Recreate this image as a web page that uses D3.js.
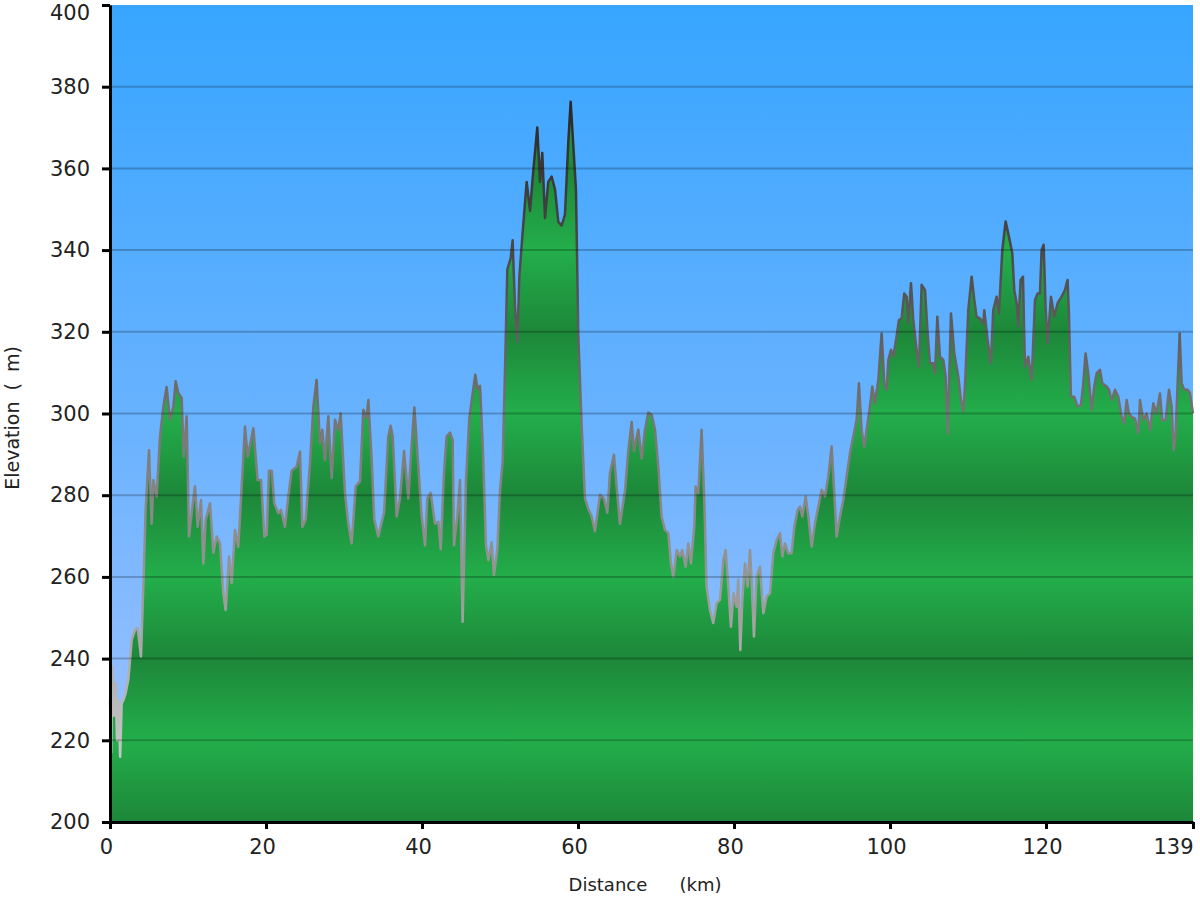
<!DOCTYPE html>
<html>
<head>
<meta charset="utf-8">
<script src="https://cdn.jsdelivr.net/npm/d3@7"></script>
<style>
  html, body { margin: 0; padding: 0; background: #ffffff; }
  svg { display: block; }
  text { font-family: "DejaVu Sans", Verdana, sans-serif; }
</style>
</head>
<body>
<svg id="chart" width="1200" height="900"></svg>
<script>
// ---- Data ----
const distKm = [
  0, 0.15, 0.3, 0.5, 0.7, 0.9, 1.1, 1.3, 1.5, 1.75, 2.0, 2.35, 2.78, 3.21, 3.55, 3.97, 4.27, 4.57, 5.0, 5.34,
  5.56, 5.98, 6.41, 6.84, 7.26, 7.69, 8.12, 8.42, 8.76, 9.19, 9.45, 9.83, 10.13, 10.56, 10.9, 11.24, 11.67, 11.97, 12.27, 12.82,
  13.25, 13.68, 14.1, 14.53, 14.83, 15.26, 15.6, 16.03, 16.45, 16.88, 17.31, 17.65, 18.38, 18.93, 19.36, 19.79, 20.09, 20.38, 20.73, 21.07,
  21.58, 21.92, 22.43, 22.86, 23.29, 23.93, 24.36, 24.66, 25.08, 25.64, 26.07, 26.49, 26.92, 27.22, 27.56, 27.99, 28.42, 28.85, 29.27, 29.57,
  30.13, 30.55, 30.98, 31.5, 32.05, 32.48, 32.9, 33.12, 33.55, 33.89, 34.4, 35.13, 35.68, 35.98, 36.24, 36.75, 37.18, 37.7, 38.25, 38.68,
  39.02, 39.53, 39.96, 40.39, 40.69, 41.11, 41.67, 42.1, 42.4, 42.82, 43.16, 43.59, 43.93, 44.1, 44.53, 44.87, 45.21, 45.64, 46.07, 46.5,
  46.84, 47.1, 47.44, 47.78, 48.21, 48.51, 48.93, 49.23, 49.66, 50.0, 50.34, 50.64, 50.94, 51.37, 51.62, 51.92, 52.22, 52.48, 52.9, 53.42,
  53.85, 54.27, 54.78, 55.13, 55.42, 55.77, 56.19, 56.62, 57.05, 57.48, 57.9, 58.33, 58.76, 59.06, 59.4, 59.74, 60.04, 60.47, 60.9, 61.33,
  61.75, 62.18, 62.82, 63.33, 63.76, 64.1, 64.61, 64.96, 65.38, 66.02, 66.45, 66.88, 67.18, 67.73, 68.16, 68.59, 69.01, 69.44, 69.87, 70.3,
  70.72, 71.15, 71.58, 71.92, 72.22, 72.65, 73.08, 73.37, 73.8, 74.14, 74.48, 74.91, 75.08, 75.42, 75.85, 76.19, 76.49, 76.92, 77.34, 77.77,
  78.2, 78.63, 78.93, 79.27, 79.61, 79.95, 80.34, 80.55, 80.81, 81.07, 81.41, 81.75, 82.05, 82.26, 82.56, 82.9, 83.33, 83.76, 84.19, 84.61,
  85.04, 85.47, 85.9, 86.2, 86.54, 86.97, 87.39, 87.74, 88.16, 88.46, 88.76, 89.19, 89.53, 89.96, 90.38, 90.81, 91.24, 91.67, 92.09, 92.52,
  92.86, 93.16, 93.59, 94.02, 94.44, 94.87, 95.3, 95.72, 96.02, 96.36, 96.7, 97.0, 97.43, 97.73, 98.07, 98.5, 98.93, 99.27, 99.57, 99.79,
  100.13, 100.43, 100.85, 101.15, 101.49, 101.83, 102.13, 102.35, 102.69, 102.99, 103.41, 103.71, 104.06, 104.49, 104.83, 105.13, 105.56, 105.77, 106.07, 106.41,
  106.84, 107.14, 107.4, 107.82, 108.25, 108.76, 109.1, 109.4, 109.61, 110.04, 110.47, 110.81, 111.1, 111.53, 111.96, 112.09, 112.52, 112.94, 113.24, 113.67,
  113.97, 114.4, 114.83, 115.25, 115.68, 115.94, 116.24, 116.45, 116.75, 117.05, 117.31, 117.73, 118.16, 118.59, 118.93, 119.23, 119.44, 119.7, 119.95, 120.21,
  120.64, 121.06, 121.49, 122.0, 122.43, 122.77, 122.94, 123.2, 123.62, 124.05, 124.48, 124.78, 125.08, 125.42, 125.85, 126.19, 126.49, 126.92, 127.22, 127.78,
  128.08, 128.42, 128.85, 129.27, 129.7, 130.04, 130.34, 130.64, 130.98, 131.41, 131.84, 132.05, 132.48, 132.9, 133.33, 133.76, 134.19, 134.61, 134.91, 135.34,
  135.77, 136.11, 136.37, 136.62, 136.88, 137.14, 137.39, 137.73, 138.16, 138.46, 138.85
];
const elevM = [
  230, 217, 238, 226, 234, 220, 230, 216, 229, 230, 231.5, 234.8, 244.6, 247, 247.5, 240.5, 257.6, 276.4, 291, 273,
  283.7, 279.7, 294.4, 301.7, 306.5, 298.5, 301.7, 307.9, 305, 303.8, 289.4, 299.3, 269.9, 277.2, 282.2, 272.3, 278.8, 263.3, 274, 278,
  265.9, 269.9, 268.2, 256, 251.9, 265, 258.5, 271.5, 267.4, 282.1, 296.8, 289.4, 296.4, 283.7, 283.7, 269.9, 270.3, 286, 286, 278,
  275.6, 276.4, 272.3, 279.7, 286, 287, 290.7, 272.3, 274, 287.8, 301.7, 308.2, 292.7, 296, 288.6, 299.3, 284.2, 298.5, 296, 300,
  280.5, 273.1, 268.2, 282.2, 283.4, 300.9, 298.9, 303.3, 288.6, 274, 269.9, 275.7, 294.4, 297, 294.4, 274.8, 279.2, 290.8, 279.2, 292.6,
  301.5, 287.2, 274.8, 267.7, 279.2, 280.6, 273, 273.5, 266.8, 285.5, 294.4, 295.3, 293.5, 267.7, 274.8, 283.7, 249, 283.7, 298.8, 305,
  309.5, 306, 306.8, 292.6, 267.7, 264.1, 268.5, 260.5, 266.8, 281, 288.1, 310.4, 335.3, 338, 342.4, 326.4, 317.5, 333.5, 344.2, 356.7,
  349.6, 359.4, 370, 356.7, 363.8, 347.8, 356.7, 358, 354.9, 346.9, 346, 348.7, 366.5, 376.3, 365.6, 354.9, 319.3, 297, 279.2, 276.6,
  274.8, 271.2, 280.1, 279.2, 275.7, 285.5, 289.9, 281.9, 273, 281, 290.8, 297.9, 290.8, 296.1, 289, 296.1, 300.2, 299.7, 296.1, 287,
  274.8, 271.5, 270.7, 263.3, 260.1, 266.6, 265, 266.6, 262.5, 268.2, 263.3, 272.3, 282.1, 280.5, 296, 278.9, 257.6, 251.9, 248.7, 253.6,
  254.4, 264.1, 266.6, 257.6, 247.8, 256, 252.7, 259.3, 242.1, 254.4, 263.3, 257.6, 266.6, 259.3, 245.4, 260.1, 262.5, 251.1, 255.2, 256,
  265.8, 269, 270.7, 265, 268.2, 265.8, 265.8, 272.3, 276.4, 277.2, 274.8, 279.7, 274.8, 267.4, 273.1, 277.2, 281.3, 279.7, 284.6, 291.9,
  280.5, 269.9, 274.8, 278.9, 284.6, 290.3, 294.4, 298.4, 307.4, 296, 291.9, 296, 301.7, 306.6, 302.5, 308.2, 319.6, 307.4, 305.8, 313.1,
  315.6, 314, 318.9, 322.9, 323.3, 329.4, 328.6, 322.1, 331.9, 322.9, 315.6, 311.5, 331.5, 330.2, 319.6, 312.3, 312.3, 309.8, 323.7, 313.9,
  313.1, 309, 295.2, 324.5, 314.7, 309, 303.3, 300.5, 306.6, 325.3, 333.5, 327.8, 323.7, 323.3, 322.1, 325.3, 318, 312.3, 325.3, 328.6,
  324.5, 340, 347, 343.3, 339.2, 330.2, 327, 321.3, 332.7, 333.5, 311.5, 313.9, 308.2, 327.8, 329.4, 329.4, 340, 341.3, 326.2, 317.2,
  328.6, 323.7, 327, 328.6, 330.2, 332.7, 324.5, 304.1, 304.1, 301.7, 302.1, 307.4, 314.7, 309.8, 300.9, 306.6, 309.8, 310.7, 307.4, 306.6,
  305.8, 303.3, 305.8, 304.1, 299.2, 297.6, 303.3, 300, 299.2, 298.8, 295.2, 303.3, 298.4, 300, 296, 302.5, 300, 304.9, 298.4, 298.4,
  305.8, 301.7, 291.1, 295.2, 307.4, 319.6, 307.4, 305.8, 305.8, 305, 300
];
const yTickValues = [200, 220, 240, 260, 280, 300, 320, 340, 360, 380, 400];
const gridValues = [220, 240, 260, 280, 300, 320, 340, 360, 380];
const xTickValues = [0, 20, 40, 60, 80, 100, 120, 138.85];
const xTickLabels = ["0", "20", "40", "60", "80", "100", "120", "139"];
const xTitle = "Distance   (km)";
const yTitle = "Elevation ( m)";

// ---- Chart ----
const svg = d3.select("#chart");
const plot = { left: 110, right: 1193, top: 5, bottom: 822 };

const x = d3.scaleLinear().domain([0, 138.85]).range([plot.left, plot.right]);
const y = d3.scaleLinear().domain([200, 400]).range([plot.bottom, plot.top]);

const defs = svg.append("defs");

// sky background gradient
const sky = defs.append("linearGradient").attr("id", "sky")
  .attr("gradientUnits", "userSpaceOnUse")
  .attr("x1", 0).attr("x2", 0).attr("y1", y(400)).attr("y2", y(200));
sky.append("stop").attr("offset", 0).attr("stop-color", "#37a5ff");
sky.append("stop").attr("offset", 0.5).attr("stop-color", "#68b2ff");
sky.append("stop").attr("offset", 1).attr("stop-color", "#a6c3ff");

// banded green fill gradient (dark at 200,240,280,320,360,400 / light in between)
const green = defs.append("linearGradient").attr("id", "green")
  .attr("gradientUnits", "userSpaceOnUse")
  .attr("x1", 0).attr("x2", 0).attr("y1", y(400)).attr("y2", y(200));
for (let v = 400; v >= 200; v -= 20) {
  const dark = ((400 - v) / 20) % 2 === 0;
  green.append("stop")
    .attr("offset", (400 - v) / 200)
    .attr("stop-color", dark ? "#1d8739" : "#23ae4b");
}

// stroke gradient: dark near top, light grey near bottom
const strokeG = defs.append("linearGradient").attr("id", "strokeG")
  .attr("gradientUnits", "userSpaceOnUse")
  .attr("x1", 0).attr("x2", 0).attr("y1", y(380)).attr("y2", y(215));
strokeG.append("stop").attr("offset", 0).attr("stop-color", "#262626");
strokeG.append("stop").attr("offset", 0.25).attr("stop-color", "#4a4a4a");
strokeG.append("stop").attr("offset", 0.5).attr("stop-color", "#767676");
strokeG.append("stop").attr("offset", 0.75).attr("stop-color", "#9a9a9a");
strokeG.append("stop").attr("offset", 1).attr("stop-color", "#c8c8c8");

// background
svg.append("rect")
  .attr("x", plot.left).attr("y", plot.top)
  .attr("width", plot.right - plot.left).attr("height", plot.bottom - plot.top)
  .attr("fill", "url(#sky)");

const pts = distKm.map((d, i) => [d, elevM[i]]);

const area = d3.area()
  .x(d => x(d[0]))
  .y0(y(200))
  .y1(d => y(d[1]));
const line = d3.line()
  .x(d => x(d[0]))
  .y(d => y(d[1]));

svg.append("path").datum(pts)
  .attr("d", area)
  .attr("fill", "url(#green)");

svg.append("path").datum(pts)
  .attr("d", line)
  .attr("fill", "none")
  .attr("stroke", "url(#strokeG)")
  .attr("stroke-width", 2.5)
  .attr("stroke-linejoin", "round");

// gridlines
svg.append("g").selectAll("line").data(gridValues).join("line")
  .attr("x1", plot.left).attr("x2", plot.right)
  .attr("y1", d => y(d)).attr("y2", d => y(d))
  .attr("stroke", "rgba(0,0,0,0.22)")
  .attr("stroke-width", 2);

// axes
const yAxis = d3.axisLeft(y).tickValues(yTickValues).tickSize(8).tickSizeOuter(0).tickPadding(12);
const gy = svg.append("g").attr("transform", `translate(${plot.left},0)`).call(yAxis);
gy.select(".domain").attr("stroke", "#000").attr("stroke-width", 3);
gy.selectAll(".tick line").attr("stroke", "#000").attr("stroke-width", 3);
gy.selectAll(".tick text").attr("font-size", 21).attr("fill", "#222")
  .attr("font-family", "DejaVu Sans, Verdana, sans-serif")
  .attr("y", d => d === 400 ? 8 : 0);

const xAxis = d3.axisBottom(x).tickValues(xTickValues).tickSize(7).tickSizeOuter(0).tickPadding(10)
  .tickFormat((d, i) => xTickLabels[i]);
const gx = svg.append("g").attr("transform", `translate(0,${plot.bottom})`).call(xAxis);
gx.select(".domain").attr("stroke", "#000").attr("stroke-width", 3);
gx.selectAll(".tick line").attr("stroke", "#000").attr("stroke-width", 3);
gx.selectAll(".tick text").attr("font-size", 21).attr("fill", "#222")
  .attr("font-family", "DejaVu Sans, Verdana, sans-serif")
  .attr("x", d => d === 138.85 ? 0 : -4)
  .attr("text-anchor", d => d === 138.85 ? "end" : "middle");

// titles
svg.append("text")
  .attr("x", 645).attr("y", 891)
  .attr("text-anchor", "middle")
  .attr("font-size", 18).attr("fill", "#222")
  .attr("word-spacing", 5)
  .style("white-space", "pre")
  .text(xTitle);

svg.append("text")
  .attr("transform", `translate(19,418) rotate(-90)`)
  .attr("text-anchor", "middle")
  .attr("font-size", 19).attr("fill", "#222")
  .attr("word-spacing", 5)
  .style("white-space", "pre")
  .text(yTitle);
</script>
</body>
</html>
